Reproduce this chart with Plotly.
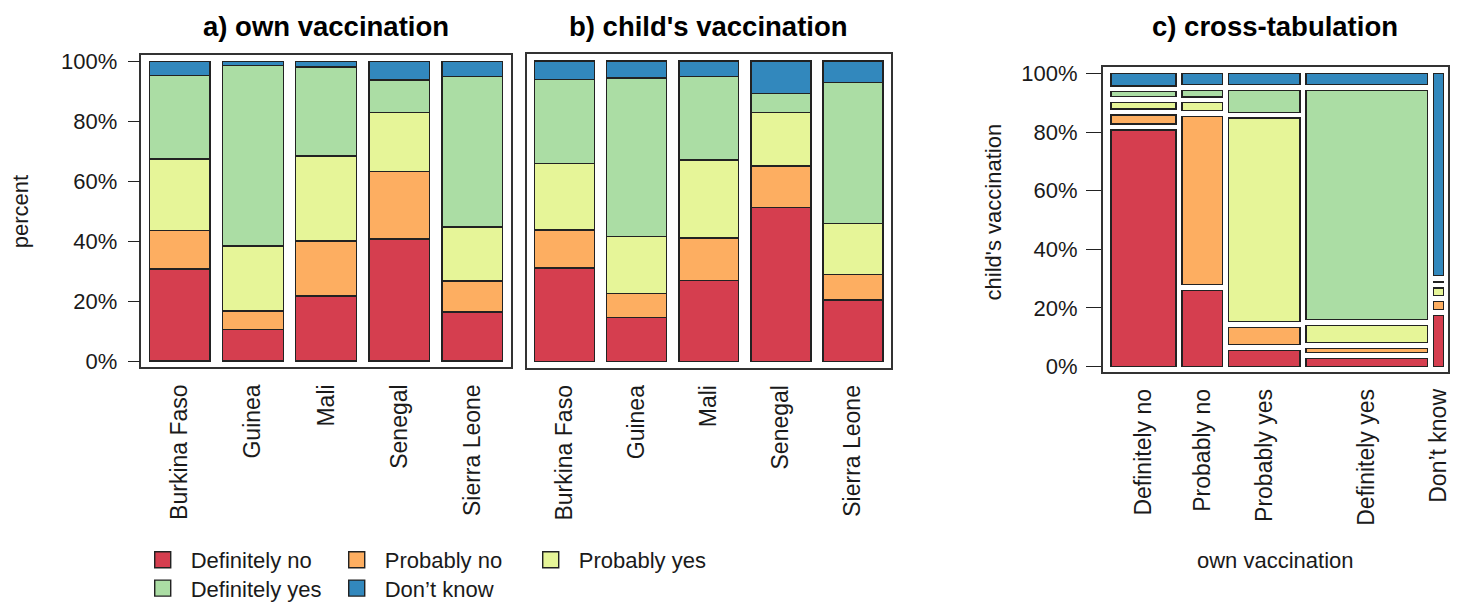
import plotly.graph_objects as go

# ---- data -------------------------------------------------------------
countries = ["Burkina Faso", "Guinea", "Mali", "Senegal", "Sierra Leone"]
responses = ["Definitely no", "Probably no", "Probably yes", "Definitely yes", "Don’t know"]
colors = ["#D53E4F", "#FDAE61", "#E6F598", "#ABDDA4", "#3288BD"]

# a) own vaccination intention, % per country
own_def_no = [30.7, 10.5, 21.7, 40.7, 16.4]
own_prob_no = [13.0, 6.2, 18.4, 22.5, 10.4]
own_prob_yes = [23.8, 21.7, 28.4, 19.7, 18.0]
own_def_yes = [27.9, 60.2, 29.7, 11.0, 50.2]
own_dont_know = [4.6, 1.4, 1.8, 6.1, 5.0]

# b) intention to vaccinate the child, % per country
child_def_no = [31.2, 14.8, 27.0, 51.2, 20.5]
child_prob_no = [12.6, 7.9, 14.2, 13.8, 8.5]
child_prob_yes = [22.1, 19.0, 25.9, 17.9, 17.0]
child_def_yes = [27.9, 52.6, 27.8, 6.2, 46.8]
child_dont_know = [6.2, 5.7, 5.1, 10.9, 7.2]

# c) cross-tabulation: share of each own-vaccination answer (%)
own_share = [21.0, 13.2, 23.1, 39.3, 3.4]
# child's answer given own answer (columns follow `responses`)
cond_def_no = [87.8, 28.2, 5.9, 3.0, 18.9]
cond_prob_no = [3.4, 62.4, 6.4, 1.5, 3.0]
cond_prob_yes = [2.4, 2.9, 75.5, 6.3, 2.8]
cond_def_yes = [1.8, 2.4, 8.1, 85.1, 0.4]
cond_dont_know = [4.6, 4.1, 4.1, 4.1, 74.9]

own_series = [own_def_no, own_prob_no, own_prob_yes, own_def_yes, own_dont_know]
child_series = [child_def_no, child_prob_no, child_prob_yes, child_def_yes, child_dont_know]
cond_series = [cond_def_no, cond_prob_no, cond_prob_yes, cond_def_yes, cond_dont_know]

# ---- geometry helpers -------------------------------------------------
W, H = 1470, 610
FONT = "Liberation Sans"
INK = "#1a1a1a"
EDGE = "#222222"


def fx(px):
    return px / W


def fy(py):
    return 1 - py / H


fig = go.Figure()

# ---- panels a and b: stacked percentage bars ---------------------------
for series, xa, ya in [(own_series, "x", "y"), (child_series, "x2", "y2")]:
    for name, vals, col in zip(responses, series, colors):
        fig.add_trace(go.Bar(
            x=countries, y=vals, name=name, width=0.83,
            marker=dict(color=col, line=dict(color=EDGE, width=1.4)),
            xaxis=xa, yaxis=ya, showlegend=False, hoverinfo="skip",
        ))

# ---- panel c: mosaic of the cross-tabulation ---------------------------
gap_x, gap_y = 1.8, 2.0
n = len(responses)
avail_x = 100 - gap_x * (n - 1)
avail_y = 100 - gap_y * (n - 1)
col_w = [s / 100 * avail_x for s in own_share]
col_c = []
left = 0.0
for w in col_w:
    col_c.append(left + w / 2)
    left += w + gap_x

bottoms = [0.0] * n
for name, vals, col in zip(responses, cond_series, colors):
    heights = [v / 100 * avail_y for v in vals]
    fig.add_trace(go.Bar(
        x=col_c, y=heights, base=list(bottoms), width=col_w, name=name,
        marker=dict(color=col, line=dict(color=EDGE, width=1.4)),
        xaxis="x3", yaxis="y3", showlegend=False, hoverinfo="skip",
    ))
    bottoms = [b + h + gap_y for b, h in zip(bottoms, heights)]

# ---- legend entries (square keys) --------------------------------------
for i, (name, col) in enumerate(zip(responses, colors)):
    fig.add_trace(go.Scatter(
        x=[None], y=[None], mode="markers", name=name,
        marker=dict(symbol="square", size=16, color=col, line=dict(color=EDGE, width=1.4)),
        legend="legend" if i < 3 else "legend2",
    ))

# ---- axes --------------------------------------------------------------
box = dict(showline=True, mirror=True, linecolor="#333333", linewidth=1.5,
           showgrid=False, zeroline=False)
tickfont = dict(family=FONT, size=22, color=INK)
catfont = dict(family=FONT, size=23, color=INK)
pct_ticks = dict(tickvals=[0, 20, 40, 60, 80, 100],
                 ticktext=["0%", "20%", "40%", "60%", "80%", "100%"])
legend_style = dict(orientation="h", xanchor="left", yanchor="middle",
                    itemwidth=46, entrywidth=133,
                    font=dict(family=FONT, size=22, color=INK),
                    bgcolor="rgba(0,0,0,0)", borderwidth=0, traceorder="normal")

fig.update_layout(
    width=W, height=H, margin=dict(l=0, r=0, t=0, b=0),
    paper_bgcolor="white", plot_bgcolor="white",
    barmode="stack",
    font=dict(family=FONT, size=22, color=INK),
    xaxis=dict(domain=[fx(141.7), fx(511.7)], range=[-0.525, 4.525], anchor="y",
               tickangle=-90, ticks="", tickfont=catfont, ticklabelstandoff=6, **box),
    yaxis=dict(domain=[fy(369.3), fy(50)], range=[-2.1, 102.2], anchor="x",
               ticks="outside", ticklen=12, tickwidth=1.3, tickcolor=EDGE,
               tickfont=tickfont, ticklabelstandoff=6, **pct_ticks, **box),
    xaxis2=dict(domain=[fx(527.7), fx(892.7)], range=[-0.525, 4.525], anchor="y2",
                tickangle=-90, ticks="", tickfont=catfont, ticklabelstandoff=6, **box),
    yaxis2=dict(domain=[fy(370), fy(49.3)], range=[-2.1, 102.2], anchor="x2",
                showticklabels=False, ticks="", **box),
    xaxis3=dict(domain=[fx(1105), fx(1451)], range=[-2.49, 101.29], anchor="y3",
                tickvals=col_c, ticktext=responses,
                tickangle=-90, ticks="", tickfont=catfont, ticklabelstandoff=6, **box),
    yaxis3=dict(domain=[fy(374), fy(62.3)], range=[-1.9, 102.24], anchor="x3",
                ticks="outside", ticklen=15, tickwidth=1.3, tickcolor=EDGE,
                tickfont=tickfont, ticklabelstandoff=4, **pct_ticks, **box),
    legend=dict(x=fx(135), y=fy(566), **legend_style),
    legend2=dict(x=fx(135), y=fy(595), **legend_style),
)

# ---- titles and axis labels --------------------------------------------
titles = [("a) own vaccination", (141.7 + 511.7) / 2),
          ("b) child's vaccination", (527.7 + 892.7) / 2),
          ("c) cross-tabulation", (1105 + 1451) / 2)]
for text, cx in titles:
    fig.add_annotation(text=text, x=fx(cx), y=fy(21), xref="paper", yref="paper",
                       showarrow=False, xanchor="center", yanchor="middle",
                       font=dict(family=FONT, size=27.5, color="black", weight=700))

fig.add_annotation(text="percent", x=fx(20), y=fy(209.7), xref="paper", yref="paper",
                   showarrow=False, textangle=-90, xanchor="center", yanchor="middle",
                   font=dict(family=FONT, size=22, color=INK))
fig.add_annotation(text="child's vaccination", x=fx(996), y=fy(210), xref="paper", yref="paper",
                   showarrow=False, textangle=-90, xanchor="center", yanchor="middle",
                   font=dict(family=FONT, size=22, color=INK))
fig.add_annotation(text="own vaccination", x=fx(1278), y=fy(567), xref="paper", yref="paper",
                   showarrow=False, xanchor="center", yanchor="middle",
                   font=dict(family=FONT, size=22, color=INK))

fig.write_html("out.html")
